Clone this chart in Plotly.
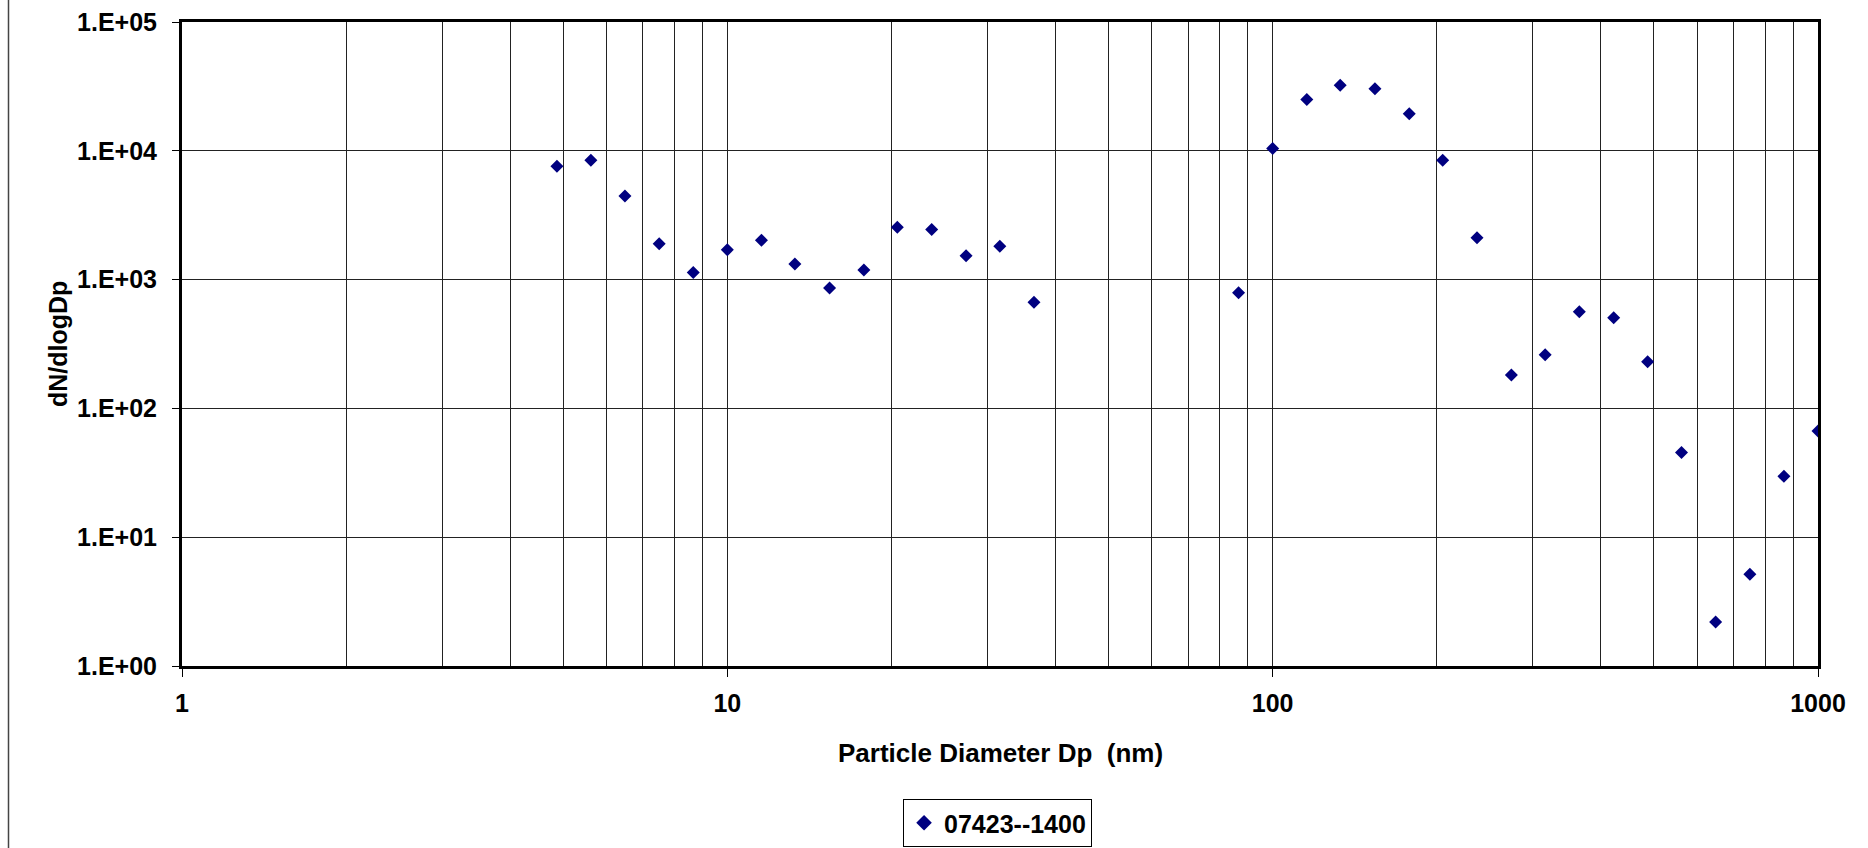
import plotly.graph_objects as go

# Data
diameter_nm = [4.87, 5.62, 6.49, 7.50, 8.66, 10.0, 11.55, 13.3, 15.4, 17.8, 20.5, 23.7,
               27.4, 31.6, 36.5, 86.6, 100.0, 115.5, 133.0, 154.0, 178.0, 205.0, 237.0,
               274.0, 316.0, 365.0, 422.0, 487.0, 562.0, 649.0, 750.0, 866.0, 1000.0]
dn_dlogdp = [7580, 8430, 4450, 1895, 1136, 1703, 2020, 1320, 861, 1186, 2555, 2447,
             1530, 1816, 667, 791, 10440, 25000, 32300, 30300, 19400, 8430, 2110,
             182, 261, 562, 505, 230, 45.4, 2.2, 5.16, 29.7, 66.7]
series_name = "07423--1400"

x_major = [1, 10, 100, 1000]
x_major_text = ["1", "10", "100", "1000"]
x_minor = [m * d for d in (1, 10, 100) for m in range(2, 10)]
y_major = [1, 10, 100, 1000, 10000, 100000]
y_major_text = ["1.E+00", "1.E+01", "1.E+02", "1.E+03", "1.E+04", "1.E+05"]

FONT = "Liberation Sans, Arial, sans-serif"
W, H = 1868, 848
L, R, T, B = 182, 50, 22, 182
pw, ph = W - L - R, H - T - B

fig = go.Figure()
fig.add_trace(go.Scatter(
    x=diameter_nm, y=dn_dlogdp, mode="markers", name=series_name,
    marker=dict(symbol="diamond", size=10, color="#000080"),
))

fig.update_layout(
    width=W, height=H,
    margin=dict(l=L, r=R, t=T, b=B, autoexpand=False),
    paper_bgcolor="white", plot_bgcolor="white",
    font=dict(family=FONT, size=25, color="black"),
    showlegend=True,
    legend=dict(
        orientation="h", x=0.4985, xanchor="center",
        yref="container", y=(H - 799) / H, yanchor="top",
        bordercolor="black", borderwidth=1,
        font=dict(family=FONT, size=25, color="black", weight="bold"),
        itemsizing="constant",
    ),
    xaxis=dict(
        type="log", range=[0, 3],
        tickmode="array", tickvals=x_major, ticktext=x_major_text,
        tickfont=dict(family=FONT, size=25, color="black", weight="bold"),
        ticks="outside", ticklen=8, tickcolor="black", tickwidth=1,
        ticklabelstandoff=5,
        showgrid=True, gridcolor="#222222", gridwidth=1,
        minor=dict(tickmode="array", tickvals=x_minor, showgrid=True,
                   gridcolor="#222222", gridwidth=1, ticks=""),
        showline=True, linecolor="black", linewidth=3, mirror=True,
        zeroline=False, automargin=False,
    ),
    yaxis=dict(
        type="log", range=[0, 5],
        tickmode="array", tickvals=y_major, ticktext=y_major_text,
        tickfont=dict(family=FONT, size=25, color="black", weight="bold"),
        ticks="outside", ticklen=7, tickcolor="black", tickwidth=1,
        ticklabelstandoff=10,
        showgrid=True, gridcolor="#222222", gridwidth=1,
        showline=True, linecolor="black", linewidth=3, mirror=True,
        zeroline=False, automargin=False,
    ),
    annotations=[
        dict(text="<b>Particle Diameter Dp  (nm)</b>", xref="paper", yref="paper",
             x=0.5, y=(666 - 753) / ph, xanchor="center", yanchor="middle",
             showarrow=False, font=dict(family=FONT, size=26, color="black")),
        dict(text="<b>dN/dlogDp</b>", xref="paper", yref="paper",
             x=(58 - L) / pw, y=0.5, xanchor="center", yanchor="middle",
             textangle=-90, showarrow=False,
             font=dict(family=FONT, size=25, color="black")),
    ],
)

# Left frame line of the chart area
fig.add_shape(type="line", xref="paper", yref="paper",
              x0=(8.5 - L) / pw, x1=(8.5 - L) / pw, y0=-10, y1=10,
              line=dict(color="#444444", width=1.5))

fig.write_html("out.html")
